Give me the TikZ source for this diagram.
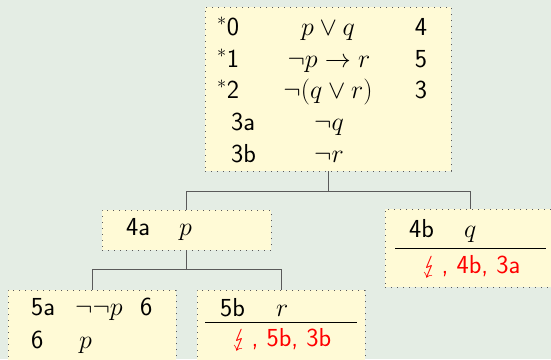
\RequirePackage{fix-cm}
\documentclass[tikz,border=0pt]{standalone}
\usepackage{stmaryrd}
\definecolor{bgc}{HTML}{E4EDE4}
\definecolor{boxc}{HTML}{FFFAD6}
\definecolor{linec}{HTML}{5A5A5A}
\definecolor{redc}{HTML}{FF0000}
\tikzset{
  tbox/.style={draw=linec, fill=boxc, line width=0.9pt, dash pattern=on 0.9pt off 5.1pt, inner sep=0pt, outer sep=0pt, anchor=north west},
  conn/.style={draw=linec, line width=1pt},
  txt/.style={anchor=base west, inner sep=0pt},
  ctxt/.style={anchor=base, inner sep=0pt},
  redtxt/.style={anchor=base west, inner sep=0pt, text=redc},
  rulel/.style={draw=black, line width=1pt}
}
\begin{document}
\begin{tikzpicture}[x=1pt,y=-1pt,font=\sffamily\fontsize{26}{31}\selectfont]
\fill[bgc] (0,0) rectangle (551,359);
\useasboundingbox (0,0) rectangle (551,359);
\clip (0,0) rectangle (551,359);
% boxes
\node[tbox, minimum width=246pt, minimum height=164pt] (root) at (205,7) {};
\node[tbox, minimum width=169pt, minimum height=40pt] (n4a) at (102,210) {};
\node[tbox, minimum width=170pt, minimum height=78pt] (n4b) at (385,209) {};
\node[tbox, minimum width=168pt, minimum height=78pt] (n5a) at (8,290) {};
\node[tbox, minimum width=168pt, minimum height=78pt] (n5b) at (197,290) {};
% connectors
\draw[conn] (root.south) -- ++(0,20) -| (n4a.north);
\draw[conn] (root.south) -- ++(0,20) -| (n4b.north);
\draw[conn] (n4a.south) -- ++(0,19) -| (n5a.north);
\draw[conn] (n4a.south) -- ++(0,19) -| (n5b.north);
% root contents
\node[txt] (r0l) at (217,35) {$^{*}$0};
\node[txt] (r1l) at (217,67) {$^{*}$1};
\node[txt] (r2l) at (217,98) {$^{*}$2};
\node[txt] (r3l) at (231,130) {3a};
\node[txt] (r4l) at (231,162) {3b};
\node[ctxt] (r0f) at (328,35) {$p\vee q$};
\node[ctxt] (r1f) at (329,67) {$\neg p\rightarrow r$};
\node[ctxt] (r2f) at (328,98) {$\neg(q\vee r)$};
\node[ctxt] (r3f) at (329,130) {$\neg q$};
\node[ctxt] (r4f) at (329,162) {$\neg r$};
\node[ctxt] (r0n) at (421,35) {4};
\node[ctxt] (r1n) at (421,67) {5};
\node[ctxt] (r2n) at (421,98) {3};
% 4a
\node[txt] (a4l) at (126,235) {4a};
\node[txt] (a4f) at (179,235) {$p$};
% 4b
\node[txt] (b4l) at (409,237) {4b};
\node[txt] (b4f) at (464,237) {$q$};
\draw[rulel] (395,248) -- (546,248);
\node[redtxt] (b4c) at (422,273) {$\lightning$\,, 4b, 3a};
% 5a
\node[txt] (a5l) at (31,315) {5a};
\node[txt] (a5f) at (75,315) {$\neg\neg p$};
\node[txt] (a5n) at (140,315) {6};
\node[txt] (a6l) at (31,348) {6};
\node[txt] (a6f) at (79,348) {$p$};
% 5b
\node[txt] (b5l) at (220,316) {5b};
\node[txt] (b5f) at (276,316) {$r$};
\draw[rulel] (205,322) -- (357,322);
\node[redtxt] (b5c) at (232,346) {$\lightning$\,, 5b, 3b};
\end{tikzpicture}
\end{document}
